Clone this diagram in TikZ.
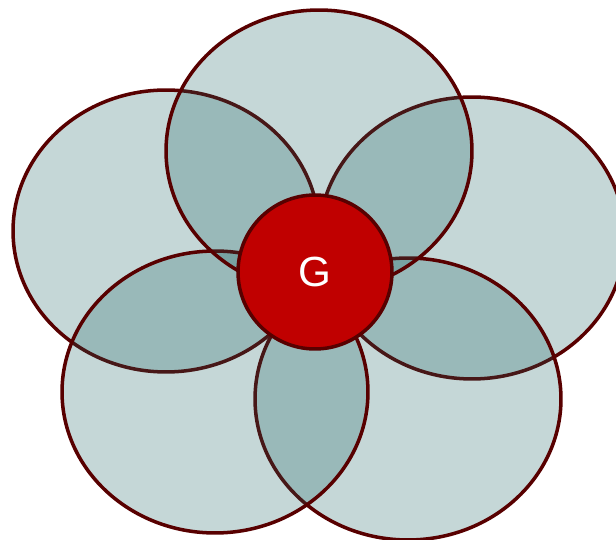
\documentclass[tikz,border=0pt]{standalone}
\usepackage{fontspec}
\setmainfont{Liberation Sans}
\usetikzlibrary{shapes.geometric}
\definecolor{petalfill}{RGB}{23,95,95}
\definecolor{petalline}{RGB}{88,0,0}
\definecolor{hubred}{RGB}{192,0,0}
\begin{document}
\begin{tikzpicture}[x=0.02cm,y=-0.02cm,
  petal/.style={ellipse,draw=petalline,line width=2pt,fill=petalfill,fill opacity=0.25,minimum width=6.12cm,minimum height=5.64cm,inner sep=0pt},
  hub/.style={circle,draw=petalline,line width=2pt,fill=hubred,minimum size=3.08cm,inner sep=0pt,text=white,font=\fontsize{24}{24}\selectfont}]
\useasboundingbox (0,0) rectangle (616,540);
\clip (0,0) rectangle (616,540);
% petals, back to front
\foreach \n/\px/\py in {right/472/238,lowright/408/399,left/166/231,lowleft/215/392,top/319/151}
  \node[petal] (petal-\n) at (\px,\py) {};
% centre
\node[hub] (g) at (315,272) {G};
\end{tikzpicture}
\end{document}
